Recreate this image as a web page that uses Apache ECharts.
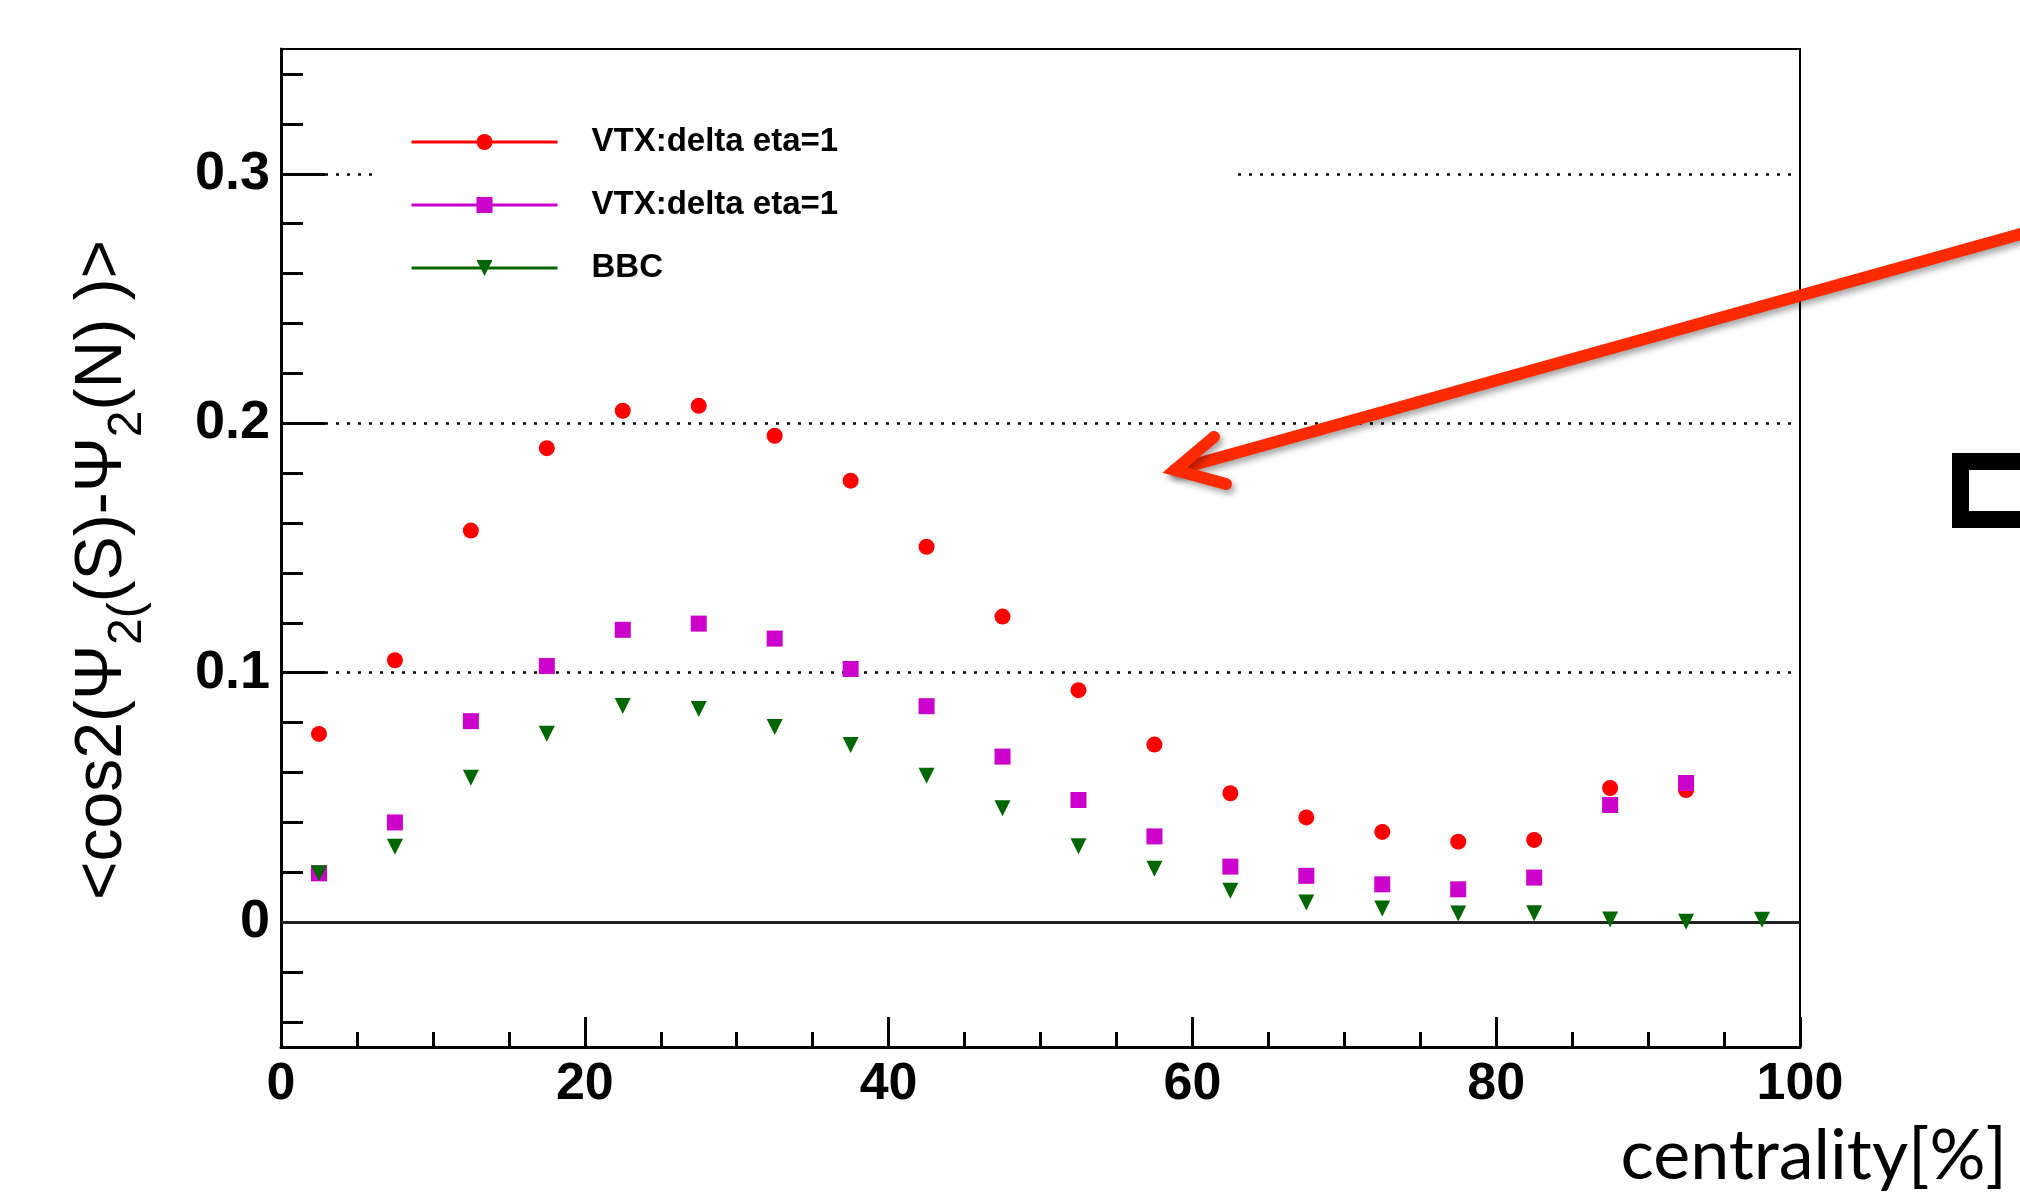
<!DOCTYPE html>
<html>
<head>
<meta charset="utf-8">
<title>cos2 vs centrality</title>
<script src="https://cdn.jsdelivr.net/npm/echarts@6/dist/echarts.min.js"></script>
<style>
html, body { margin: 0; padding: 0; background: #fff; }
#main { width: 2020px; height: 1194px; }
</style>
</head>
<body>
<div id="main"></div>
<script>
// centrality bin centers [%]
var centrality = [2.5, 7.5, 12.5, 17.5, 22.5, 27.5, 32.5, 37.5, 42.5, 47.5,
                  52.5, 57.5, 62.5, 67.5, 72.5, 77.5, 82.5, 87.5, 92.5, 97.5];
// red circles
var vtxA = [0.0755, 0.105, 0.157, 0.190, 0.205, 0.207, 0.195, 0.177, 0.1505, 0.1225,
            0.093, 0.0712, 0.0517, 0.042, 0.0362, 0.0323, 0.033, 0.0538, 0.053];
// magenta squares
var vtxB = [0.0196, 0.040, 0.0806, 0.1027, 0.1172, 0.1197, 0.1137, 0.1015, 0.0866, 0.0664,
            0.049, 0.0344, 0.0223, 0.0186, 0.0152, 0.0132, 0.0179, 0.047, 0.0558];
// green triangles
var bbc = [0.0196, 0.0303, 0.0579, 0.0756, 0.0867, 0.0855, 0.0783, 0.071, 0.0587, 0.0457,
           0.0305, 0.0214, 0.0126, 0.0079, 0.0055, 0.0035, 0.0036, 0.0011, 0.0002, 0.001];

var legendLabels = {vtxA: 'VTX:delta eta=1', vtxB: 'VTX:delta eta=1', bbc: 'BBC'};
var yLabels = [0, 0.1, 0.2, 0.3];
var yMinor = [-0.04, -0.02, 0, 0.02, 0.04, 0.06, 0.08, 0.1, 0.12, 0.14, 0.16, 0.18,
              0.2, 0.22, 0.24, 0.26, 0.28, 0.3, 0.32, 0.34];
var gridValues = [0.1, 0.2, 0.3];

function pairs(vals) {
  var out = [];
  for (var i = 0; i < vals.length; i++) out.push([centrality[i], vals[i]]);
  return out;
}

var chart = echarts.init(document.getElementById('main'));

var dotted = {color: '#000', width: 2.5, type: [3, 8]};
var guideLines = gridValues.map(function (v) { return {yAxis: v, lineStyle: dotted}; });
guideLines.push({yAxis: 0, lineStyle: {color: '#222', width: 3, type: 'solid'}});

var sansFont = 'Liberation Sans, Arial, Helvetica, sans-serif';

chart.setOption({
  animation: false,
  grid: {
    left: 281, right: 220, top: 49, bottom: 147,
    show: true, borderColor: '#000', borderWidth: 2,
    containLabel: false, outerBoundsMode: 'none'
  },
  legend: {
    orient: 'vertical', left: 374, top: 104, z: 10,
    padding: [20, 393, 20, 36],
    backgroundColor: '#fff',
    itemWidth: 146, itemHeight: 20, itemGap: 27,
    selectedMode: false,
    data: ['vtxA', 'vtxB', 'bbc'],
    formatter: function (n) { return legendLabels[n]; },
    lineStyle: {width: 3, opacity: 1},
    textStyle: {fontFamily: sansFont, fontWeight: 'bold', fontSize: 33, color: '#000',
                lineHeight: 36, padding: [0, 0, 0, 29]}
  },
  xAxis: {
    type: 'value', min: 0, max: 100, interval: 20,
    axisLine: {onZero: false, lineStyle: {color: '#000', width: 3}},
    axisTick: {inside: true, length: 30, lineStyle: {color: '#000', width: 3}},
    minorTick: {show: true, splitNumber: 4, length: 15, lineStyle: {color: '#000', width: 3}},
    splitLine: {show: false},
    axisLabel: {fontFamily: sansFont, fontWeight: 'bold', fontSize: 52, color: '#000',
                margin: 12, showMinLabel: true, showMaxLabel: true},
    name: 'centrality[%]', nameLocation: 'end', nameGap: 207, nameMoveOverlap: false,
    nameTextStyle: {fontFamily: 'Lato, Open Sans, sans-serif', fontSize: 70, color: '#000',
                    align: 'right', verticalAlign: 'top', lineHeight: 70, padding: [74, 0, 0, 0]}
  },
  yAxis: [{
    type: 'value', min: -0.05, max: 0.35, position: 'left',
    axisLine: {show: true, onZero: false, lineStyle: {color: '#000', width: 3}},
    axisTick: {inside: true, length: 22, customValues: yMinor, lineStyle: {color: '#000', width: 3}},
    splitLine: {show: false},
    axisLabel: {customValues: yLabels, fontFamily: sansFont, fontWeight: 'bold',
                fontSize: 54, color: '#000', margin: 11},
    name: '{b|<cos2(Ψ}{s|2(}{b|(S)-Ψ}{s|2}{b|(N) )>}',
    nameLocation: 'middle', nameGap: 145, nameMoveOverlap: false,
    nameTextStyle: {
      color: '#000', padding: [0, 44, 0, 0],
      rich: {
        b: {fontFamily: sansFont, fontSize: 66, lineHeight: 66, verticalAlign: 'top', color: '#000'},
        s: {fontFamily: sansFont, fontSize: 48, lineHeight: 48, verticalAlign: 'top',
            padding: [34, 0, 0, 0], color: '#000'}
      }
    }
  }, {
    type: 'value', min: -0.05, max: 0.35, position: 'left', offset: 0,
    axisLine: {show: false, onZero: false},
    axisTick: {inside: true, length: 44, customValues: yLabels, lineStyle: {color: '#000', width: 3}},
    axisLabel: {show: false},
    splitLine: {show: false}
  }],
  series: [{
    name: 'guides', type: 'line', data: [], z: 1, silent: true,
    markLine: {z: 1, silent: true, symbol: ['none', 'none'], label: {show: false}, data: guideLines}
  }, {
    name: 'vtxA', type: 'line', z: 3, data: pairs(vtxA),
    symbol: 'circle', symbolSize: 16, showAllSymbol: true,
    itemStyle: {color: '#ff0000'}, lineStyle: {color: '#ff0000', width: 3, opacity: 0}
  }, {
    name: 'vtxB', type: 'line', z: 3, data: pairs(vtxB),
    symbol: 'rect', symbolSize: 16, showAllSymbol: true,
    itemStyle: {color: '#cc00cc'}, lineStyle: {color: '#cc00cc', width: 3, opacity: 0}
  }, {
    name: 'bbc', type: 'line', z: 3, data: pairs(bbc),
    symbol: 'triangle', symbolRotate: 180, symbolSize: 16, showAllSymbol: true,
    itemStyle: {color: '#006600'}, lineStyle: {color: '#006600', width: 3, opacity: 0}
  }],
  graphic: [{
    type: 'polyline', z: 100, silent: true,
    shape: {points: [[2035, 230], [1175, 470]]},
    style: {stroke: '#ff2a00', lineWidth: 12, lineCap: 'round', fill: null,
            shadowColor: 'rgba(0,0,0,0.35)', shadowBlur: 6, shadowOffsetX: 3, shadowOffsetY: 4}
  }, {
    type: 'polyline', z: 100, silent: true,
    shape: {points: [[1214, 437], [1175, 470], [1226, 484]]},
    style: {stroke: '#ff2a00', lineWidth: 12, lineCap: 'round', lineJoin: 'miter', fill: null,
            shadowColor: 'rgba(0,0,0,0.35)', shadowBlur: 6, shadowOffsetX: 3, shadowOffsetY: 4}
  }, {
    type: 'rect', z: 100, silent: true,
    shape: {x: 1960.5, y: 461.5, width: 120, height: 58},
    style: {fill: '#fff', stroke: '#000', lineWidth: 17}
  }]
});
</script>
</body>
</html>
